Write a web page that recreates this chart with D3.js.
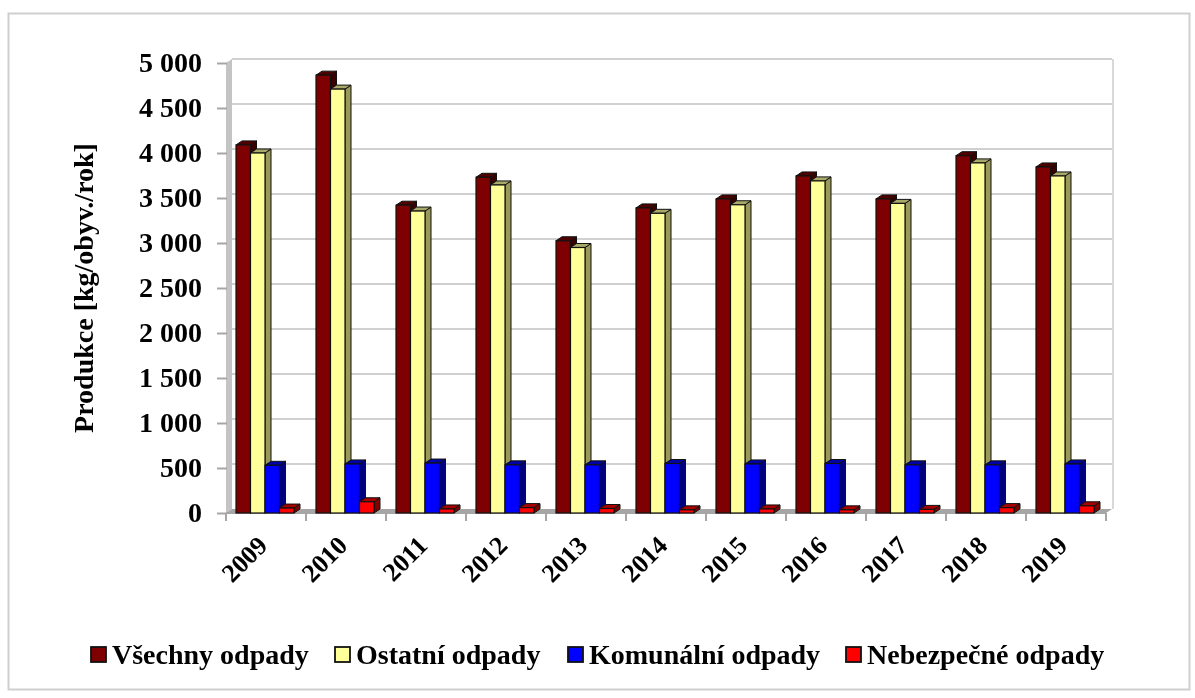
<!DOCTYPE html>
<html>
<head>
<meta charset="utf-8">
<script src="https://cdn.jsdelivr.net/npm/d3@7"></script>
<style>
  html, body { margin: 0; padding: 0; background: #fff; }
  svg { filter: blur(0.4px); }
  text { font-family: "Liberation Serif", "Times New Roman", serif; font-weight: bold; fill: #000; }
</style>
</head>
<body>
<div id="my_dataviz"></div>
<script>
const years = ["2009", "2010", "2011", "2012", "2013", "2014", "2015", "2016", "2017", "2018", "2019"];
const seriesNames = ["Všechny odpady", "Ostatní odpady", "Komunální odpady", "Nebezpečné odpady"];
const vsechny = [4090, 4865, 3420, 3730, 3025, 3390, 3490, 3745, 3490, 3970, 3845];
const ostatni = [4000, 4710, 3355, 3645, 2950, 3330, 3425, 3690, 3440, 3890, 3745];
const komunalni = [530, 545, 555, 535, 535, 550, 545, 550, 535, 535, 545];
const nebezpecne = [55, 125, 45, 60, 50, 35, 45, 35, 40, 60, 80];
const yTicks = [0, 500, 1000, 1500, 2000, 2500, 3000, 3500, 4000, 4500, 5000];

const allSeries = [vsechny, ostatni, komunalni, nebezpecne];
// front, side, top colours of each series
const colors = [
  { front: "#7f0000", side: "#3a0000", top: "#4f0000" },
  { front: "#ffff99", side: "#99995c", top: "#a8a868" },
  { front: "#0000ff", side: "#000080", top: "#0000a8" },
  { front: "#ff0000", side: "#800000", top: "#a80000" },
];

const width = 1195, height = 698;
const margin = { top: 63, left: 226, bottom: 513, right: 1106 };
const depth = { x: 6, y: 4 };

const svg = d3.select("#my_dataviz").append("svg")
  .attr("width", width).attr("height", height)
  .style("display", "block");

// outer frame
svg.append("rect")
  .attr("x", 8.5).attr("y", 13.5).attr("width", 1181).attr("height", 676)
  .attr("fill", "#fff").attr("stroke", "#cfcfcf").attr("stroke-width", 2);

const x = d3.scaleBand().domain(years).range([margin.left, margin.right]);
const y = d3.scaleLinear().domain([0, 5000]).range([margin.bottom, margin.top]);
const inner = d3.scaleBand().domain(d3.range(4)).range([10, 68]);

const spaced = d3.formatLocale({ thousands: " ", grouping: [3], decimal: ",", currency: ["", ""] }).format(",");

// back wall gridlines
svg.append("g").selectAll("line")
  .data(yTicks)
  .join("line")
  .attr("x1", margin.left + depth.x)
  .attr("x2", margin.right + depth.x)
  .attr("y1", d => y(d) - depth.y)
  .attr("y2", d => y(d) - depth.y)
  .attr("stroke", d => d === 0 ? "none" : "#d0d0d0")
  .attr("stroke-width", 2);

// side wall
svg.append("path")
  .attr("d", `M${margin.left},${y(0)}L${margin.left},${y(5000)}L${margin.left + depth.x},${y(5000) - depth.y}L${margin.left + depth.x},${y(0) - depth.y}Z`)
  .attr("fill", "#c4c4c4");
// right edge of wall
svg.append("line")
  .attr("x1", margin.right + depth.x + 1).attr("x2", margin.right + depth.x + 1)
  .attr("y1", y(5000) - depth.y).attr("y2", y(0) - depth.y)
  .attr("stroke", "#d9d9d9").attr("stroke-width", 2);
// floor
svg.append("path")
  .attr("d", `M${margin.left},${y(0)}L${margin.right},${y(0)}L${margin.right + depth.x},${y(0) - depth.y}L${margin.left + depth.x},${y(0) - depth.y}Z`)
  .attr("fill", "#a6a6a6");

// y axis
const yAxis = svg.append("g")
  .attr("transform", `translate(${margin.left + 1},0)`)
  .call(d3.axisLeft(y).tickValues(yTicks).tickFormat(spaced).tickSize(10).tickPadding(15).tickSizeOuter(0));
yAxis.select(".domain").attr("stroke", "none");
yAxis.selectAll(".tick line").attr("stroke", "#a6a6a6").attr("stroke-width", 2);
yAxis.selectAll("text").style("font-size", "28px").style("font-family", "Liberation Serif").style("font-weight", "bold");

// x axis
const xAxis = svg.append("g").attr("transform", `translate(0,${margin.bottom})`);
xAxis.append("line")
  .attr("x1", margin.left).attr("x2", margin.right)
  .attr("stroke", "#a6a6a6").attr("stroke-width", 2);
xAxis.selectAll("line.tk")
  .data(years.concat("end"))
  .join("line")
  .attr("class", "tk")
  .attr("x1", d => d === "end" ? margin.right : x(d))
  .attr("x2", d => d === "end" ? margin.right : x(d))
  .attr("y1", 0).attr("y2", 8)
  .attr("stroke", "#a6a6a6").attr("stroke-width", 2);
xAxis.selectAll("text")
  .data(years)
  .join("text")
  .attr("text-anchor", "end")
  .attr("transform", d => `translate(${x(d) + 43},${34}) rotate(-45)`)
  .style("font-size", "26px")
  .text(d => d);

// bars, painted series by series
allSeries.forEach(function (values, s) {
  const g = svg.append("g").attr("class", "series");
  const bw = inner.bandwidth();
  const bar = g.selectAll("g")
    .data(values)
    .join("g");
  const left = (d, i) => x(years[i]) + inner(s);

  bar.append("path") // side
    .attr("d", (d, i) => {
      const r = left(d, i) + bw;
      return `M${r},${y(d)}L${r + depth.x},${y(d) - depth.y}L${r + depth.x},${y(0) - depth.y}L${r},${y(0)}Z`;
    })
    .attr("fill", colors[s].side)
    .attr("stroke", "#111").attr("stroke-width", 1);
  bar.append("path") // top
    .attr("d", (d, i) => {
      const l = left(d, i);
      return `M${l},${y(d)}L${l + depth.x},${y(d) - depth.y}L${l + bw + depth.x},${y(d) - depth.y}L${l + bw},${y(d)}Z`;
    })
    .attr("fill", colors[s].top)
    .attr("stroke", "#111").attr("stroke-width", 1);
  bar.append("rect") // front
    .attr("x", left)
    .attr("y", d => y(d))
    .attr("width", bw)
    .attr("height", d => y(0) - y(d))
    .attr("fill", colors[s].front)
    .attr("stroke", "#111").attr("stroke-width", 1.2);
});

// y title
svg.append("text")
  .attr("transform", "translate(93,288) rotate(-90)")
  .attr("text-anchor", "middle")
  .style("font-size", "28px")
  .text("Produkce [kg/obyv./rok]");

// legend
const legendX = [91, 335, 568, 846];
const legend = svg.append("g").selectAll("g")
  .data(seriesNames)
  .join("g")
  .attr("transform", (d, i) => `translate(${legendX[i]},647)`);
legend.append("rect")
  .attr("width", 15).attr("height", 15)
  .attr("fill", (d, i) => colors[i].front)
  .attr("stroke", "#111").attr("stroke-width", 1.8);
legend.append("text")
  .attr("x", 21).attr("y", 17)
  .style("font-size", "28px")
  .text(d => d);
</script>
</body>
</html>
